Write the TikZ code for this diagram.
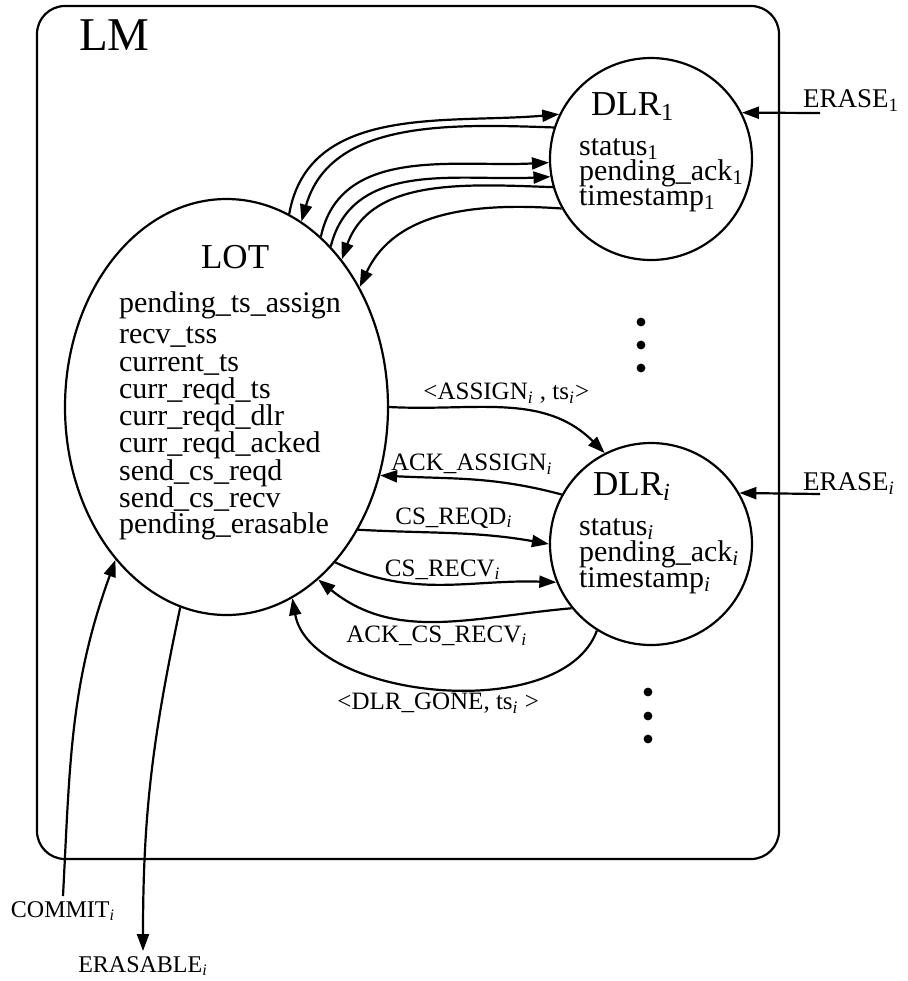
\documentclass[tikz,border=0pt]{standalone}
\usepackage{fontspec}
\setmainfont{Liberation Serif}
\usetikzlibrary{shapes.geometric,arrows.meta}
\newcommand{\subi}{\textsubscript{\textit{i}}}
\newcommand{\subone}{\textsubscript{1}}
\begin{document}
\begin{tikzpicture}[x=0.5pt,y=0.5pt,line width=1.1pt,
  dlr/.style={circle,draw,minimum size=101pt,inner sep=0pt},
  heading/.style={anchor=base west,inner sep=0pt,font=\fontsize{17.5}{20}\selectfont},
  field/.style={anchor=base west,inner sep=0pt,font=\fontsize{15}{18}\selectfont},
  msg/.style={-{Triangle[length=8.5pt,width=6pt]}},
  lbl/.style={font=\fontsize{12.5}{14}\selectfont,inner sep=2pt},
  io/.style={anchor=base,inner sep=2pt,font=\fontsize{12}{14}\selectfont}]
\useasboundingbox (0,0) rectangle (908,-981);
\draw[rounded corners=14pt] (37,-6) rectangle (779,-859);
\node[anchor=base west,inner sep=0pt,font=\fontsize{23.5}{28}\selectfont] (lm) at (78,-50) {LM};

% LOT with its variables
\node[ellipse,draw,minimum width=161.5pt,minimum height=208pt] (lot) at (226.5,-407) {};
\node[heading] (lotname) at (200,-268) {LOT};
\foreach \v/\y in {pending\_ts\_assign/312,recv\_tss/343,current\_ts/371,curr\_reqd\_ts/398,
  curr\_reqd\_dlr/425,curr\_reqd\_acked/452,send\_cs\_reqd/480,send\_cs\_recv/507,pending\_erasable/533}
  \node[field] (lot\y) at (118,-\y) {\v};

% DLR_1 and DLR_i
\node[dlr] (dlr1) at (651,-159) {};
\node[heading] (dlr1name) at (590,-115) {DLR\subone};
\foreach \v/\y in {status/155,pending\_ack/180,timestamp/205}
  \node[field] (dlr1\y) at (578,-\y) {\v\subone};
\node[dlr] (dlri) at (651,-544) {};
\node[heading] (dlriname) at (592,-495) {DLR\subi};
\foreach \v/\y in {status/535,pending\_ack/561,timestamp/587}
  \node[field] (dlri\y) at (578,-\y) {\v\subi};

% more DLRs
\foreach \y in {322,345,368} \fill (641,-\y) circle (2.2pt);
\foreach \y in {692,716,739} \fill (648,-\y) circle (2.2pt);

% erase inputs
\node[anchor=base west,inner sep=0pt,font=\fontsize{13.5}{16}\selectfont] (erase1) at (802,-107) {ERASE\subone};
\node[anchor=base west,inner sep=0pt,font=\fontsize{13.5}{16}\selectfont] (erasei) at (802,-490) {ERASE\subi};
\coordinate (e1) at (820,-113);
\coordinate (ei) at (820,-494);
\draw[msg] (e1) -- (dlr1.27);
\draw[msg] (ei) -- (dlri.30);

% LOT <-> DLR_1
\draw[msg] (lot.72) to[out=80,in=185] (dlr1.154);
\draw[msg] (dlr1.162) to[out=178,in=74] (lot.68);
\draw[msg] (lot.61) to[out=78,in=183] (dlr1.182);
\draw[msg] (lot.57) to[out=76,in=183] (dlr1.190);
\draw[msg] (dlr1.196) to[out=178,in=70] (lot.52);
\draw[msg] (dlr1.209) to[out=176,in=65] (lot.42);

% LOT <-> DLR_i
\draw[msg] (lot.0) to[out=-3,in=135] node[lbl,above] (assign) {\textless ASSIGN\subi\ , ts\subi\textgreater} (dlri.117);
\draw[msg] (dlri.151) to[out=165,in=-3] node[lbl,above] (ackassign) {ACK\_ASSIGN\subi} (lot.-24);
\draw[msg] (lot.-43) to[out=-3,in=170] node[lbl,above] (csreqd) {CS\_REQD\subi} (dlri.180);
\draw[msg] (lot.-55) to[out=-25,in=178] node[lbl,above] (csrecv) {CS\_RECV\subi} (dlri.202);
\draw[msg] (dlri.219) to[out=185,in=-39] node[lbl,below] (ackcsrecv) {ACK\_CS\_RECV\subi} (lot.-62);
\draw[msg] (dlri.238) to[out=-110,in=-80,looseness=0.85] node[lbl,below] (gone) {\textless DLR\_GONE, ts\subi\ \textgreater} (lot.-71);

% commit in, erasable out
\node[io] (commit) at (63,-917) {COMMIT\subi};
\node[io] (erasable) at (143,-972) {ERASABLE\subi};
\draw[msg] (commit.north) to[out=87,in=-110] (lot.-126);
\draw[msg] (lot.-103) to[out=-102,in=90] (erasable.north);
\end{tikzpicture}
\end{document}
